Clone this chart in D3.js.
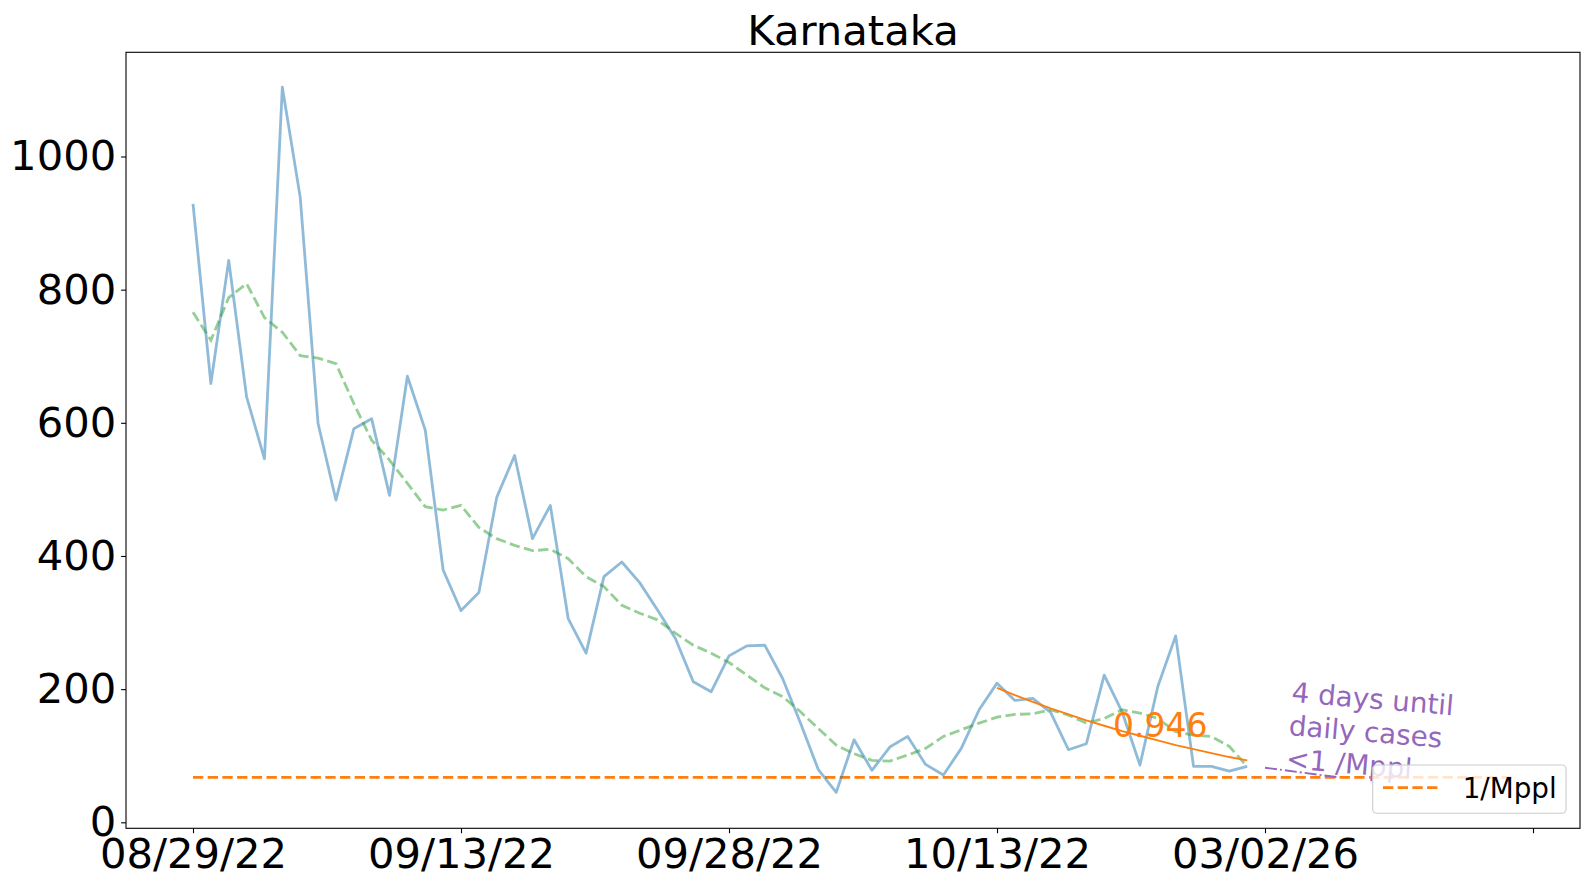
<!DOCTYPE html>
<html><head><meta charset="utf-8">
<script src="https://cdn.jsdelivr.net/npm/d3@7"></script>
<style>body{margin:0;background:#fff;} text{font-family:"DejaVu Sans";}</style>
</head><body>
<svg id="chart" width="1589" height="890"></svg>
<script>
const chartTitle = "Karnataka";
const startDate = Date.UTC(2022, 7, 29);
const dailyCases = [929, 659, 844, 639, 546, 1104, 939, 599, 484, 591,
  606, 491, 670, 589, 379, 318, 345, 488, 551, 426,
  476, 306, 254, 369, 391, 360, 319, 276, 211, 196,
  250, 265, 266, 216, 149, 79, 45, 124, 78, 113,
  129, 87, 71, 111, 169, 209, 183, 186, 165, 109,
  118, 221, 166, 86, 204, 280, 84, 84, 77, 84];
const movingAvg = [766, 724, 788, 809, 758, 736, 701, 697, 689, 629,
  574, 544, 509, 474, 469, 476, 443, 426, 416, 408,
  410, 396, 369, 354, 326, 314, 304, 284, 266, 254,
  240, 221, 202, 189, 166, 141, 116, 103, 93, 92,
  101, 111, 129, 139, 149, 158, 162, 163, 169, 161,
  149, 156, 169, 164, 156, 136, 131, 129, 114, 84];
const fitStartDay = 45;
const fitValues = [202, 191, 181, 171, 162, 153, 145, 137, 130, 123, 116, 110, 104, 98, 93];
const projDays = [60, 64];
const projValues = [82, 68];
const thresholdValue = 67.5;
const thresholdDays = [0, 74];
const xTickDays = [0, 15, 30, 45, 60, 75];
const xTickLabels = ["08/29/22", "09/13/22", "09/28/22", "10/13/22", "03/02/26", ""];
const yTicks = [0, 200, 400, 600, 800, 1000];
const growthLabel = "0.946";
const projLabel = ["4 days until", "daily cases", "<1 /Mppl"];
const legendLabel = "1/Mppl";

const dayDate = d => startDate + d * 86400000;
const L = 126, R = 1580, T = 52.3, B = 828.3;
const svg = d3.select("#chart");
const x = d3.scaleUtc().domain([new Date(dayDate(-3.75)), new Date(dayDate(77.63))]).range([L, R]);
const y = d3.scaleLinear().domain([-9, 1156.5]).range([B, T]);
const X = d => x(new Date(dayDate(d)));

const line = d3.line().x(d => X(d[0])).y(d => y(d[1]));

// threshold
svg.append("path").attr("d", line(thresholdDays.map(d => [d, thresholdValue])))
  .attr("fill", "none").attr("stroke", "#ff7f0e").attr("stroke-width", 2.8)
  .attr("stroke-dasharray", "10.3,4.4");

// daily
svg.append("path").attr("d", line(dailyCases.map((v, i) => [i, v])))
  .attr("fill", "none").attr("stroke", "#1f77b4").attr("stroke-opacity", 0.5)
  .attr("stroke-width", 2.8).attr("stroke-linejoin", "round");

// moving average
svg.append("path").attr("d", line(movingAvg.map((v, i) => [i, v])))
  .attr("fill", "none").attr("stroke", "#2ca02c").attr("stroke-opacity", 0.5)
  .attr("stroke-width", 2.8).attr("stroke-dasharray", "10.3,4.4");

// fit
svg.append("path").attr("d", line(fitValues.map((v, i) => [fitStartDay + i, v])))
  .attr("fill", "none").attr("stroke", "#ff7f0e").attr("stroke-width", 1.9);

// projection
svg.append("path").attr("d", line(projValues.map((v, i) => [projDays[i], v])))
  .attr("fill", "none").attr("stroke", "#9467bd").attr("stroke-width", 1.9)
  .attr("stroke-dasharray", "12,3,2,3");

// growth label
svg.append("text").attr("x", 1113).attr("y", 736.7).attr("fill", "#ff7f0e")
  .attr("font-size", 33).text(growthLabel);

// projection label
const pt = svg.append("text").attr("transform", "translate(1291,701.7) rotate(4.8)")
  .attr("fill", "#9467bd").attr("font-size", 27.8);
projLabel.forEach((s, i) => pt.append("tspan").attr("x", 0).attr("y", i * 33.3).text(s));

// axes
const yAxis = svg.append("g").attr("transform", `translate(${L},0)`)
  .call(d3.axisLeft(y).tickValues(yTicks).tickFormat(d3.format("d")).tickSize(4.9).tickPadding(4.9));
yAxis.selectAll("text").attr("font-size", 41.7).attr("font-family", "DejaVu Sans").attr("fill", "#000");
const xAxis = svg.append("g").attr("transform", `translate(0,${B})`)
  .call(d3.axisBottom(x).tickValues(xTickDays.map(d => new Date(dayDate(d))))
    .tickFormat((d, i) => xTickLabels[i]).tickSize(4.9).tickPadding(4.9));
xAxis.selectAll("text").attr("font-size", 41.7).attr("font-family", "DejaVu Sans").attr("fill", "#000");
svg.selectAll(".domain").remove();
svg.selectAll(".tick line").attr("stroke", "#000").attr("stroke-width", 1.1);

svg.append("rect").attr("x", L).attr("y", T).attr("width", R - L).attr("height", B - T)
  .attr("fill", "none").attr("stroke", "#000").attr("stroke-width", 1.1);

// title
svg.append("text").attr("x", (L + R) / 2).attr("y", 44.6).attr("text-anchor", "middle")
  .attr("font-size", 41.7).text(chartTitle);

// legend
svg.append("rect").attr("x", 1372.7).attr("y", 765).attr("width", 193.3).attr("height", 48.3)
  .attr("rx", 4).attr("fill", "#fff").attr("fill-opacity", 0.8)
  .attr("stroke", "#cccccc").attr("stroke-width", 1.1);
svg.append("line").attr("x1", 1383).attr("x2", 1438).attr("y1", 787.7).attr("y2", 787.7)
  .attr("stroke", "#ff7f0e").attr("stroke-width", 2.8).attr("stroke-dasharray", "10.3,4.4");
svg.append("text").attr("x", 1462.7).attr("y", 797.5).attr("font-size", 27.8).text(legendLabel);
</script>
</body></html>
